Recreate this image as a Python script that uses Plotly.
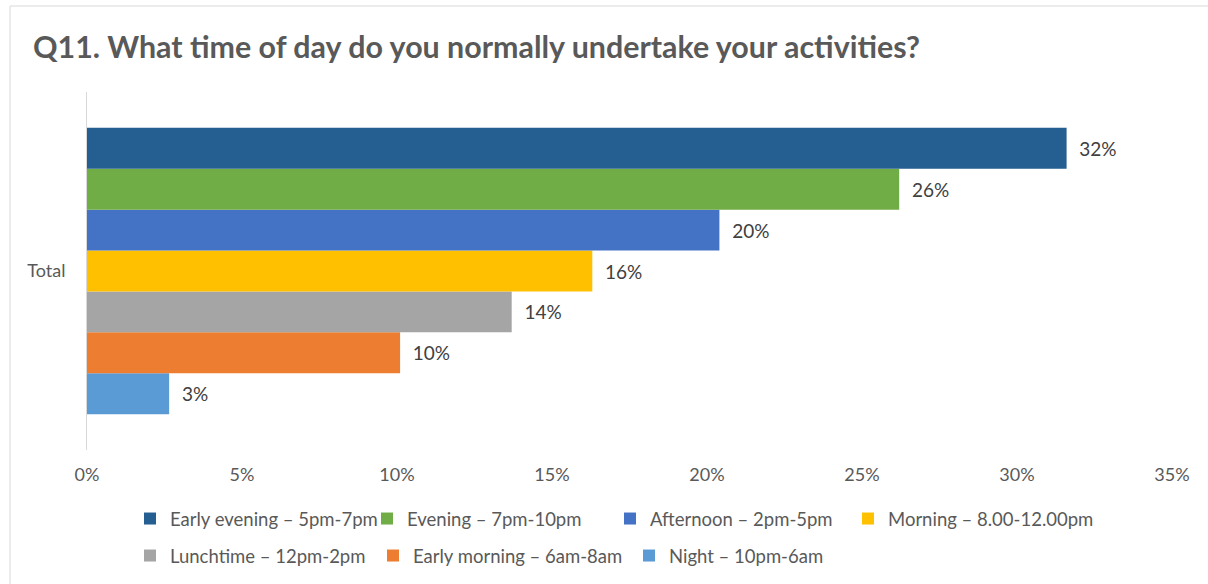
import plotly.graph_objects as go

categories = ["Total"]
series_names = [
    "Early evening – 5pm-7pm",
    "Evening – 7pm-10pm",
    "Afternoon – 2pm-5pm",
    "Morning – 8.00-12.00pm",
    "Lunchtime – 12pm-2pm",
    "Early morning – 6am-8am",
    "Night – 10pm-6am",
]
series_values = [31.6, 26.2, 20.4, 16.3, 13.7, 10.1, 2.65]
series_colors = ["#255E91", "#70AD47", "#4472C4", "#FFC000", "#A5A5A5", "#ED7D31", "#5B9BD5"]
x_ticks = [0, 5, 10, 15, 20, 25, 30, 35]
x_tick_labels = ["0%", "5%", "10%", "15%", "20%", "25%", "30%", "35%"]

W, H = 1208, 584
L, R, T, B = 87, 36, 92, 134
pw, ph = W - L - R, H - T - B
FONT = "Lato"

# legend entry placement (pixel left of each swatch, pixel row centre)
legend_x_px = [144, 381, 624, 862, 144, 387, 643]
legend_y_px = [519, 519, 519, 519, 556, 556, 556]

def px_x(px):
    return (px - L) / pw

def px_y(py):
    return (H - B - py) / ph

def legend_id(i):
    return "legend" if i == 0 else f"legend{i + 1}"

fig = go.Figure()
n = len(series_names)
# add in reverse so the first series is drawn at the top of the group
for i in reversed(range(n)):
    fig.add_trace(go.Bar(
        y=categories,
        x=[series_values[i]],
        orientation="h",
        name=series_names[i],
        marker=dict(color=series_colors[i], line=dict(width=0)),
        texttemplate="\u00a0\u00a0%{x:.0f}%",
        textposition="outside",
        textfont=dict(family=FONT, size=19, color="#404040"),
        cliponaxis=False,
        legend=legend_id(i),
        hoverinfo="x+name",
    ))

legend_common = dict(
    orientation="h", xanchor="left", yanchor="middle",
    font=dict(family=FONT, size=18.5, color="#595959"),
    itemclick=False, bgcolor="rgba(0,0,0,0)",
)

legends = {}
for i in range(n):
    legends[legend_id(i)] = dict(legend_common,
                                 x=px_x(legend_x_px[i] - 14),
                                 y=px_y(legend_y_px[i]))

fig.update_layout(
    width=W, height=H,
    margin=dict(l=L, r=R, t=T, b=B, autoexpand=False),
    paper_bgcolor="white", plot_bgcolor="white",
    barmode="group", bargap=0.2, bargroupgap=0,
    title=dict(
        text="<b>Q11. What time of day do you normally undertake your activities?</b>",
        x=33 / W, xanchor="left", y=1 - 47 / H, yanchor="middle",
        font=dict(family=FONT, size=30.4, color="#595959"),
    ),
    xaxis=dict(
        range=[0, 35], tickvals=x_ticks, ticktext=x_tick_labels,
        showgrid=False, zeroline=False, showline=False,
        tickfont=dict(family=FONT, size=18, color="#595959"),
        ticklabelstandoff=12, fixedrange=True,
    ),
    yaxis=dict(
        showgrid=False, zeroline=False, showline=True, linecolor="#D9D9D9", linewidth=1,
        tickfont=dict(family=FONT, size=18, color="#595959"),
        ticklabelstandoff=17, fixedrange=True,
    ),
    showlegend=True,
    shapes=[
        dict(type="line", xref="paper", yref="paper",
             x0=px_x(10), x1=px_x(1210), y0=px_y(6), y1=px_y(6),
             line=dict(color="#D9D9D9", width=1)),
        dict(type="line", xref="paper", yref="paper",
             x0=px_x(10), x1=px_x(10), y0=px_y(6), y1=px_y(590),
             line=dict(color="#D9D9D9", width=1)),
    ],
    **legends,
)

fig.write_html("out.html", config={"displayModeBar": False},
               post_script="document.body.style.margin='0';")
